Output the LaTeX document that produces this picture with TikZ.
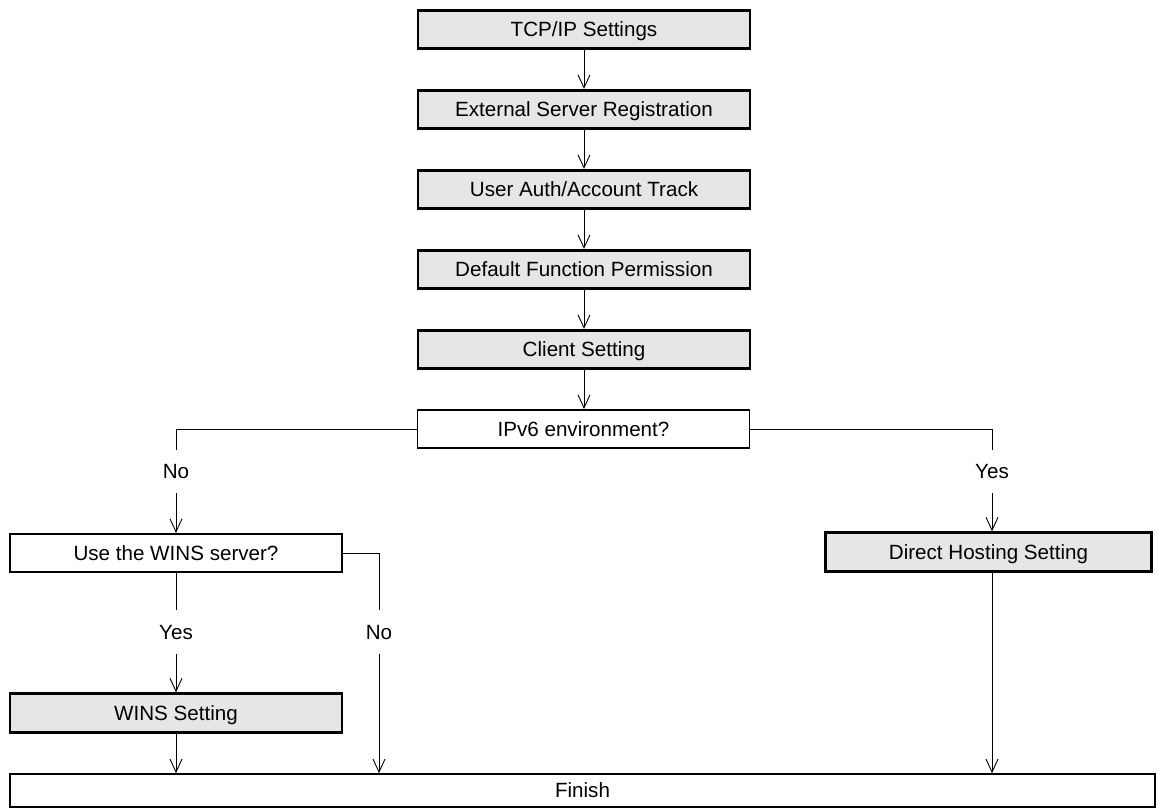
\documentclass[tikz,border=0pt]{standalone}
\usepackage{fontspec}
\setmainfont{Liberation Sans}
\usetikzlibrary{arrows.meta}
\definecolor{boxgray}{HTML}{E6E6E6}
\tikzset{fc/.style={x=1pt,y=-1pt,line width=.9pt,font=\fontsize{20.6}{24}\selectfont},
  stepbox/.style={draw,fill=boxgray,line width=2.8pt,minimum width=332pt,minimum height=38.5pt,inner sep=0pt,text height=14.5pt,text depth=0pt},
  askbox/.style={draw,fill=white,line width=1.7pt,minimum width=332pt,minimum height=38.5pt,inner sep=0pt,text height=14.5pt,text depth=0pt},
  lbl/.style={minimum height=43pt,inner sep=0pt,text height=14.5pt,text depth=0pt},
  go/.style={-{Straight Barb[length=13pt,width=12pt]}}}

\begin{document}
\begin{tikzpicture}[fc]
  \useasboundingbox (0,0) rectangle (1158,810);
  \node[stepbox] (tcp) at (584,29.5) {TCP/IP Settings};
  \node[stepbox] (ext) at (584,109.5) {External Server Registration};
  \node[stepbox] (auth) at (584,189.5) {User Auth/Account Track};
  \node[stepbox] (perm) at (584,269.5) {Default Function Permission};
  \node[stepbox] (client) at (584,349.5) {Client Setting};
  \node[askbox] (ipv6) at (583.5,429) {IPv6 environment?};
  \node[lbl] (no1) at (176,471.5) {No};
  \node[lbl] (yes1) at (992,471.5) {Yes};
  \node[askbox] (wins) at (176,553) {Use the WINS server?};
  \node[stepbox,minimum width=326pt] (direct) at (988.5,552) {Direct Hosting Setting};
  \node[lbl] (yes2) at (176,632) {Yes};
  \node[lbl] (no2) at (379,632) {No};
  \node[stepbox] (winsset) at (176,713) {WINS Setting};
  \node[askbox,minimum width=1145pt,minimum height=33pt] (finish) at (582.5,790.5) {Finish};
  % main chain
  \foreach \a/\b in {tcp/ext,ext/auth,auth/perm,perm/client,client/ipv6}
    \draw[go] (\a.south) -- (\a.south |- \b.north);
  % IPv6 branches
  \draw (ipv6.west) -| (no1.north);
  \draw[go] (no1.south) -- (no1.south |- wins.north);
  \draw (ipv6.east) -| (yes1.north);
  \draw[go] (yes1.south) -- (yes1.south |- direct.north);
  \draw[go] (yes1.south |- direct.south) -- (yes1.south |- finish.north);
  % WINS branches
  \draw (wins.south) -- (yes2.north);
  \draw[go] (yes2.south) -- (winsset.north);
  \draw[go] (winsset.south) -- (winsset.south |- finish.north);
  \draw (wins.east) -| (no2.north);
  \draw[go] (no2.south) -- (no2.south |- finish.north);
\end{tikzpicture}
\end{document}
